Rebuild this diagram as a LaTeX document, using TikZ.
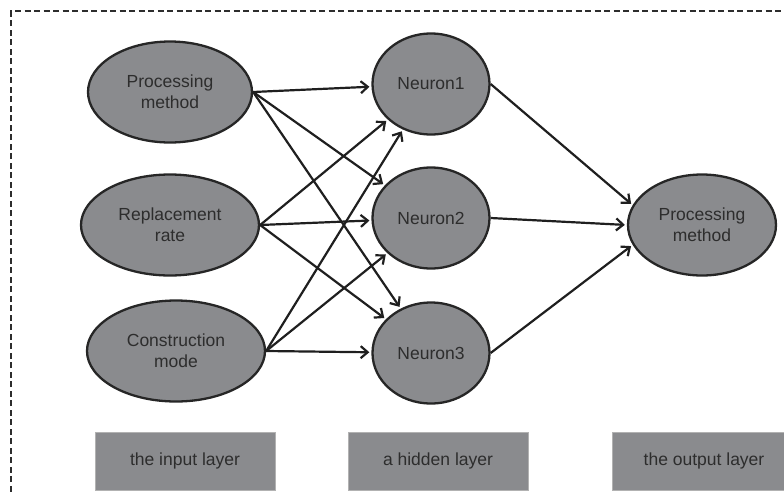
\documentclass[tikz,border=0pt]{standalone}
\usepackage{fontspec}
\setmainfont{Liberation Sans}
\usepackage{xcolor}
\usetikzlibrary{shapes,arrows.meta,positioning}
\definecolor{cellgray}{RGB}{138,139,142}
\definecolor{inkgray}{RGB}{45,45,45}

\begin{document}
\begin{tikzpicture}[x=1pt,y=-1pt]

\tikzstyle{link} = [line width=2.2pt, draw=black!88,
   -{Straight Barb[length=7pt,width=12pt,line width=2.2pt]}, shorten >=2pt]

\tikzstyle{cell}=[ellipse, draw=black!85, line width=2.3pt, fill=cellgray,
    text=inkgray, align=center, inner sep=0pt, minimum height=101pt,
    font=\fontsize{17.5}{21}\selectfont]

\tikzstyle{layerbox}=[draw=black!30, line width=1pt, fill=cellgray,
    text=inkgray, minimum width=180pt, minimum height=58pt,
    font=\fontsize{17.5}{21}\selectfont]

\clip (0,0) rectangle (784,493);
\useasboundingbox (0,0) rectangle (784,493);

% frame round the whole net
\draw[line width=1.5pt, inkgray, dash pattern=on 6pt off 3.5pt] (11,520) |- (800,11);

% input layer
\node[cell,minimum width=164pt] (pm) at (170,92) {Processing\\method};
\node[cell,minimum width=178pt,below of=pm,node distance=133pt] (rr) {Replacement\\rate};
\node[cell,minimum width=178pt,below of=rr,node distance=126pt,xshift=6pt] (cm) {Construction\\mode};

% hidden layer
\node[cell,minimum width=117pt] (n1) at (431,84) {Neuron1};
\node[cell,minimum width=117pt,below of=n1,node distance=134pt] (n2) {Neuron2};
\node[cell,minimum width=117pt,below of=n2,node distance=135pt] (n3) {Neuron3};

% output layer
\node[cell,minimum width=148pt] (out) at (702,225) {Processing\\method};

% layer captions
\node[layerbox] (lin) at (185,461) {the input layer};
\node[layerbox] (lhid) at (438,461) {a hidden layer};
\node[layerbox,minimum width=184pt] (lout) at (704,461) {the output layer};

\foreach \src in {pm,rr,cm}
  \foreach \dst in {n1,n2,n3}
    \draw[link] (\src.east) -- (\dst);

\draw[link] (n1.east) -- (out.164);
\draw[link] (n2.east) -- (out.west);
\draw[link] (n3.east) -- (out.196);

\end{tikzpicture}
\end{document}
